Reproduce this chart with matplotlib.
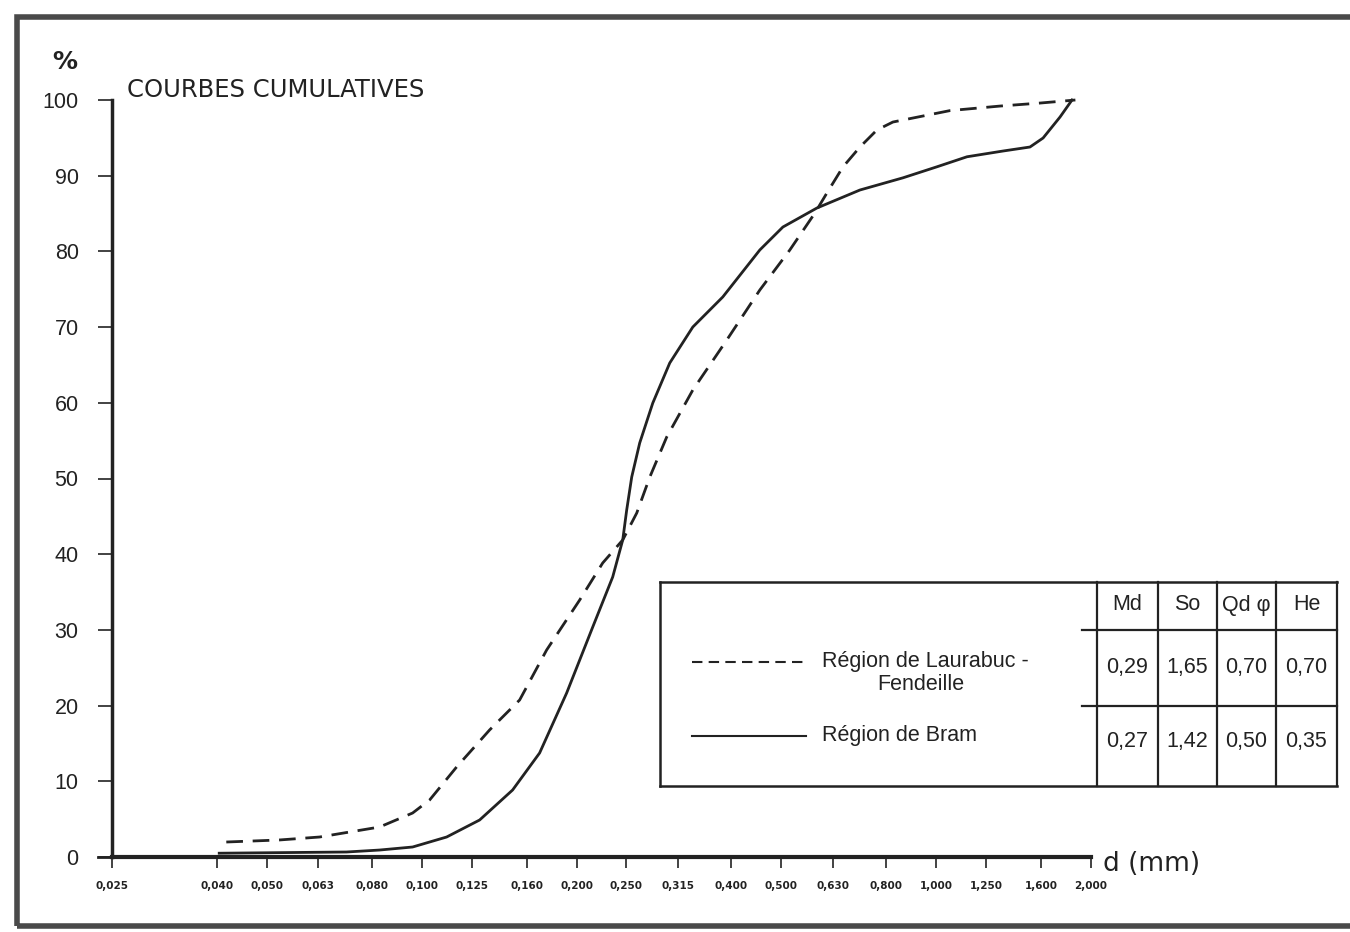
import numpy as np
import matplotlib
matplotlib.use('Agg')
import matplotlib.pyplot as plt
from matplotlib.lines import Line2D
from matplotlib.patches import Rectangle

plt.rcParams['font.family'] = ['Liberation Sans', 'DejaVu Sans']

INK = '#222222'

# sieve sizes (mm) used as x ticks
x_ticks = [0.025, 0.040, 0.050, 0.063, 0.080, 0.100, 0.125, 0.160, 0.200,
           0.250, 0.315, 0.400, 0.500, 0.630, 0.800, 1.000, 1.250, 1.600, 2.000]
x_tick_labels = ['0,025', '0,040', '0,050', '0,063', '0,080', '0,100', '0,125',
                 '0,160', '0,200', '0,250', '0,315', '0,400', '0,500', '0,630',
                 '0,800', '1,000', '1,250', '1,600', '2,000']
y_ticks = list(range(0, 101, 10))

# Region de Laurabuc - Fendeille (dashed)
d_laurabuc = [0.0417, 0.0529, 0.0633, 0.0828, 0.0960, 0.1036, 0.1169, 0.1355,
              0.1550, 0.1749, 0.2028, 0.2248, 0.2459, 0.2618, 0.2776, 0.2994,
              0.3365, 0.3918, 0.4542, 0.5195, 0.5812, 0.6132, 0.6588, 0.7110,
              0.7672, 0.8241, 1.064, 1.331, 1.594, 1.865]
p_laurabuc = [1.98, 2.25, 2.64, 3.96, 5.81, 7.53, 11.89, 16.78,
              20.74, 27.34, 33.95, 38.84, 41.88, 45.44, 50.20, 55.48,
              61.69, 68.30, 74.90, 80.19, 85.07, 87.71, 91.15, 93.79,
              96.04, 97.09, 98.6, 99.2, 99.6, 100.0]

# Region de Bram (solid)
d_bram = [0.0404, 0.0714, 0.0828, 0.0960, 0.1118, 0.1296, 0.1502, 0.1695,
          0.1913, 0.2150, 0.2351, 0.2459, 0.2503, 0.2560, 0.2653, 0.2813,
          0.3035, 0.3365, 0.3848, 0.4542, 0.5036, 0.5864, 0.7110, 0.862,
          1.004, 1.148, 1.349, 1.522, 1.614, 1.741, 1.837]
p_bram = [0.5, 0.66, 0.92, 1.32, 2.64, 4.89, 8.85, 13.74,
          21.66, 30.38, 36.99, 41.88, 45.84, 50.20, 54.69, 59.97,
          65.26, 70.01, 73.98, 80.19, 83.22, 85.73, 88.11, 89.72,
          91.18, 92.50, 93.26, 93.79, 94.98, 97.75, 100.0]

# table
col_heads = ['Md', 'So', 'Qd φ', 'He']
row_labels = ['Région de Laurabuc -\nFendeille', 'Région de Bram']
row_values = [['0,29', '1,65', '0,70', '0,70'],
              ['0,27', '1,42', '0,50', '0,35']]

W, H = 1350, 932


def fx(px):
    return px / W


def fy(py):
    return 1 - py / H


def fig_line(fig, x0, y0, x1, y1, **kw):
    fig.add_artist(Line2D([fx(x0), fx(x1)], [fy(y0), fy(y1)],
                          transform=fig.transFigure, color=INK, **kw))


fig = plt.figure(figsize=(W / 100, H / 100), dpi=100)
fig.patch.set_facecolor('white')

# scan frame
fig.add_artist(Rectangle((fx(17), fy(926)), fx(1400) - fx(17), fy(17) - fy(926),
                         transform=fig.transFigure, fill=False,
                         edgecolor='#4a4a4a', lw=4))

ax = fig.add_axes([fx(112), fy(857), fx(1091) - fx(112), fy(100) - fy(857)])
ax.set_xscale('log')
ax.plot(d_laurabuc, p_laurabuc, color=INK, lw=2.0, dashes=(6, 3.5),
        clip_on=False)
ax.plot(d_bram, p_bram, color=INK, lw=2.0, clip_on=False)

ax.set_xlim(0.025, 2.0)
ax.set_ylim(0, 100)
ax.minorticks_off()
ax.set_xticks(x_ticks)
ax.set_xticklabels(x_tick_labels, fontsize=7.5, fontweight='bold',
                   family=['DejaVu Sans'])
ax.set_yticks(y_ticks)
ax.set_yticklabels([str(v) for v in y_ticks], fontsize=15.5)
ax.tick_params(axis='x', direction='out', length=8, width=1.2, pad=9,
               colors=INK)
ax.tick_params(axis='y', direction='out', length=10, width=1.2, pad=14,
               colors=INK)
for s in ['top', 'right']:
    ax.spines[s].set_visible(False)
ax.spines['left'].set_linewidth(2.5)
ax.spines['bottom'].set_linewidth(3)
for s in ['left', 'bottom']:
    ax.spines[s].set_color(INK)
fig_line(fig, 98, 857, 112, 857, lw=2)

fig.text(fx(65), fy(62), '%', fontsize=18, fontweight='bold', color=INK,
         ha='center', va='center', family='DejaVu Sans')
fig.text(fx(127), fy(90), 'COURBES CUMULATIVES', fontsize=17.5, color=INK,
         ha='left', va='center', family='DejaVu Sans')
fig.text(fx(1103), fy(864), 'd (mm)', fontsize=19, color=INK,
         ha='left', va='center', family='DejaVu Sans')

# table box
left, right = 660, 1337
top, head, mid, bottom = 582, 630, 706, 786
cols = [1097, 1158, 1217, 1276, 1337]
fig_line(fig, left, top, right, top, lw=1.8)
fig_line(fig, left, bottom, right, bottom, lw=1.8)
fig_line(fig, left, top, left, bottom, lw=1.8)
fig_line(fig, 1082, head, right, head, lw=1.6)
fig_line(fig, 1082, mid, right, mid, lw=1.6)
for c in cols:
    fig_line(fig, c, top, c, bottom, lw=1.6)

row_y = [668, 742]
for i, h in enumerate(col_heads):
    fig.text(fx((cols[i] + cols[i + 1]) / 2), fy(605), h, fontsize=15.5,
             color=INK, ha='center', va='center')
for r, vals in enumerate(row_values):
    for i, v in enumerate(vals):
        fig.text(fx((cols[i] + cols[i + 1]) / 2), fy(row_y[r]), v,
                 fontsize=15.5, color=INK, ha='center', va='center')

# legend samples
fig.add_artist(Line2D([fx(692), fx(808)], [fy(662), fy(662)],
                      transform=fig.transFigure, color=INK, lw=1.5,
                      dashes=(5, 3)))
fig_line(fig, 692, 736, 806, 736, lw=1.5)
fig.text(fx(822), fy(662), 'Région de Laurabuc -', fontsize=15.5, color=INK,
         ha='left', va='center')
fig.text(fx(921), fy(684), 'Fendeille', fontsize=15.5, color=INK,
         ha='center', va='center')
fig.text(fx(822), fy(735), row_labels[1], fontsize=15.5, color=INK,
         ha='left', va='center')

fig.savefig('out.png', dpi=100)
